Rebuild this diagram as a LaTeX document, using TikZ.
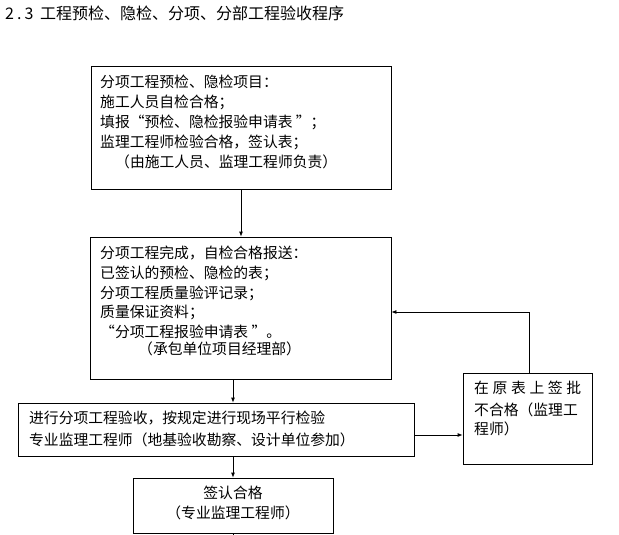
\documentclass[tikz,border=0pt]{standalone}
\usepackage{fontspec}
\setmainfont{Noto Sans CJK SC}
\usetikzlibrary{arrows.meta,calc}
\begin{document}
\begin{tikzpicture}[x=1pt,y=-1pt,
  box/.style={draw,line width=0.8pt,inner sep=0pt},
  txt/.style={inner sep=0pt,anchor=west,font=\fontsize{14.8}{18}\selectfont},
  ctxt/.style={inner sep=0pt,anchor=center,font=\fontsize{14.8}{18}\selectfont},
  arr/.style={line width=0.8pt,-{Latex[length=5pt,width=4pt]}},
  ln/.style={line width=0.8pt}]
\useasboundingbox (0,0) rectangle (619,535);
% title
\node[inner sep=0pt,anchor=west,font=\fontsize{16}{18}\selectfont] (title) at (5,13) {\makebox[35pt][s]{2\hfill .\hfill 3\hfill\ }工程预检、隐检、分项、分部工程验收程序};
% boxes
\node[box,minimum width=300pt,minimum height=123pt] (b1) at (241,127.5) {};
\node[box,minimum width=301pt,minimum height=142pt] (b2) at (240.5,308) {};
\node[box,minimum width=396pt,minimum height=53pt] (b3) at (216,429.5) {};
\node[box,minimum width=129pt,minimum height=91pt] (b4) at (527.5,418.5) {};
\node[box,minimum width=200pt,minimum height=55pt] (b5) at (233,505.5) {};
% box 1 text
\node[txt] (t11) at (100,82) {分项工程预检、隐检项目：};
\node[txt] (t12) at (100,102) {施工人员自检合格；};
\node[txt] (t13) at (100,122) {填报“预检、隐检报验申请表 ”；};
\node[txt] (t14) at (100,142) {监理工程师检验合格，签认表；};
\node[txt] (t15) at (115,162) {（由施工人员、监理工程师负责）};
% box 2 text
\node[txt] (t21) at (100,253) {分项工程完成，自检合格报送：};
\node[txt] (t22) at (100,273) {已签认的预检、隐检的表；};
\node[txt] (t23) at (100,293) {分项工程质量验评记录；};
\node[txt] (t24) at (100,312) {质量保证资料；};
\node[txt] (t25) at (100,332) {“分项工程报验申请表 ”。};
\node[txt] (t26) at (138,349) {（承包单位项目经理部）};
% box 3 text
\node[txt] (t31) at (29,418) {进行分项工程验收，按规定进行现场平行检验};
\node[txt] (t32) at (29,440) {专业监理工程师（地基验收勘察、设计单位参加）};
% box 4 text
\node[txt] (t41) at (474,388) {\makebox[107pt][s]{在\hfill 原\hfill 表\hfill 上\hfill 签\hfill 批}};
\node[txt] (t42) at (474,410) {不合格（监理工};
\node[txt] (t43) at (474,429) {程师）};
% box 5 text
\node[ctxt] (t51) at (233,493) {签认合格};
\node[ctxt] (t52) at (233,513) {（专业监理工程师）};
% connectors
\coordinate (bend) at (233,535);
\draw[arr] (b1.south) -- (b1.south |- b2.north);
\draw[arr] (b5.north |- b2.south) -- (b5.north |- b3.north);
\draw[arr] (b5.north |- b3.south) -- (b5.north);
\draw[ln] (b5.south) -- (bend);
\draw[arr] ([yshift=-5.5pt]b3.east) -- ([yshift=-5.5pt]b3.east -| b4.west);
\draw[arr] ([xshift=1.5pt]b4.north) |- ([yshift=-4pt]b2.east);
\end{tikzpicture}
\end{document}
